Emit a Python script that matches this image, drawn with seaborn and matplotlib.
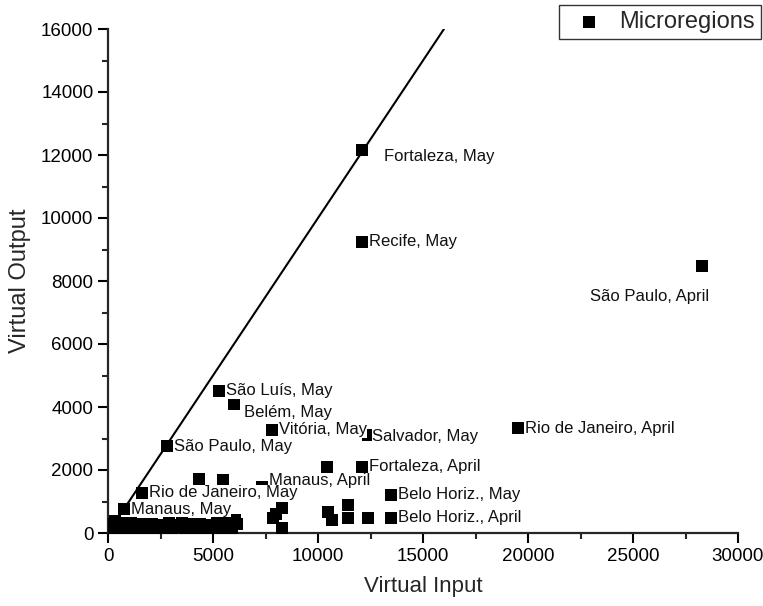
import matplotlib
matplotlib.use('Agg')
import matplotlib.pyplot as plt
import seaborn as sns
from matplotlib.ticker import MultipleLocator

# Labelled microregions (virtual input, virtual output)
labels = ['Fortaleza, May', 'Recife, May', 'São Paulo, April', 'São Luís, May',
          'Belém, May', 'Vitória, May', 'Salvador, May', 'Rio de Janeiro, April',
          'São Paulo, May', 'Fortaleza, April', 'Manaus, April', 'Rio de Janeiro, May',
          'Manaus, May', 'Belo Horiz., May', 'Belo Horiz., April']
labelled_input = [12100, 12100, 28290, 5290, 6000, 7810, 12380, 19520,
                  2810, 12100, 7330, 1620, 760, 13480, 13480]
labelled_output = [12160, 9240, 8480, 4510, 4100, 3270, 3110, 3330,
                   2760, 2110, 1450, 1270, 760, 1210, 480]

# Unlabelled microregions
other_input = [10430, 4330, 5480, 10480, 10670, 11430, 11430, 12380, 8290, 7860, 8290, 8000,
               150, 250, 350, 420, 500, 600, 700, 800, 900, 1000, 1100, 1250, 1400, 1500,
               1650, 1800, 1950, 2100, 2250, 2400, 2550, 2700, 2900, 3050, 3200, 3350, 3500,
               3650, 3800, 3950, 4100, 4250, 4400, 4550, 4700, 4850, 5000, 5200, 5400, 5600,
               5750, 5900, 6050, 6150, 300, 650, 1200, 2000, 3000, 4500]
other_output = [2100, 1710, 1680, 670, 410, 890, 480, 480, 790, 480, 160, 600,
                300, 120, 380, 200, 250, 90, 320, 180, 240, 60, 330, 150, 270, 210,
                100, 280, 140, 300, 190, 80, 260, 170, 320, 110, 240, 200, 310,
                130, 270, 90, 230, 180, 300, 150, 260, 100, 220, 330, 140, 250,
                350, 110, 420, 300, 60, 40, 30, 50, 20, 40]

# y = x reference line
line_x = [0, 16000]
line_y = [0, 16000]

# label offsets in points (dx, dy)
offsets = {'Fortaleza, May': (16, -5), 'São Paulo, April': (-81, -22),
           'Belém, May': (7, -6), 'Manaus, April': (5, 5), 'Salvador, May': (3, -1)}

sns.set_style('ticks')
plt.rcParams['font.family'] = ['Liberation Sans', 'DejaVu Sans']

fig = plt.figure(figsize=(7.63, 6.06), dpi=100)
ax = fig.add_axes([108 / 763, 1 - 533 / 606, 630 / 763, 504 / 606])

all_x = labelled_input + other_input
all_y = labelled_output + other_output

sns.lineplot(x=line_x, y=line_y, color='black', linewidth=1.5, ax=ax, zorder=2)
sns.scatterplot(x=all_x, y=all_y, marker='s', s=70, color='black', linewidth=0,
                label='Microregions', ax=ax, zorder=3)

for name, xv, yv in zip(labels, labelled_input, labelled_output):
    dx, dy = offsets.get(name, (5, 0))
    ax.annotate(name, (xv, yv), xytext=(dx, dy), textcoords='offset points',
                ha='left', va='center', fontsize=12, color='#111111', zorder=4,
                bbox=dict(facecolor='white', edgecolor='none', pad=0.3))

ax.set_xlim(0, 30000)
ax.set_ylim(0, 16000)
ax.xaxis.set_major_locator(MultipleLocator(5000))
ax.xaxis.set_minor_locator(MultipleLocator(2500))
ax.yaxis.set_major_locator(MultipleLocator(2000))
ax.yaxis.set_minor_locator(MultipleLocator(1000))
ax.tick_params(which='major', direction='out', length=7, width=1.5, labelsize=13.5,
               colors='black')
ax.tick_params(which='minor', direction='out', length=4, width=1.5)
for s in ['left', 'bottom']:
    ax.spines[s].set_linewidth(1.6)
sns.despine(ax=ax)

ax.set_xlabel('Virtual Input', fontsize=16, labelpad=8)
ax.set_ylabel('Virtual Output', fontsize=17, labelpad=7)

handles, lbls = ax.get_legend_handles_labels()
ax.legend_.remove()
leg = fig.legend(handles, lbls, loc='upper right', bbox_to_anchor=(761 / 763, 1 - 5 / 606),
                 fontsize=17, frameon=True, fancybox=False, edgecolor='black',
                 handletextpad=0.3, borderpad=0.25, borderaxespad=0)
leg.get_frame().set_linewidth(1.0)

fig.savefig('out.png', dpi=100)
